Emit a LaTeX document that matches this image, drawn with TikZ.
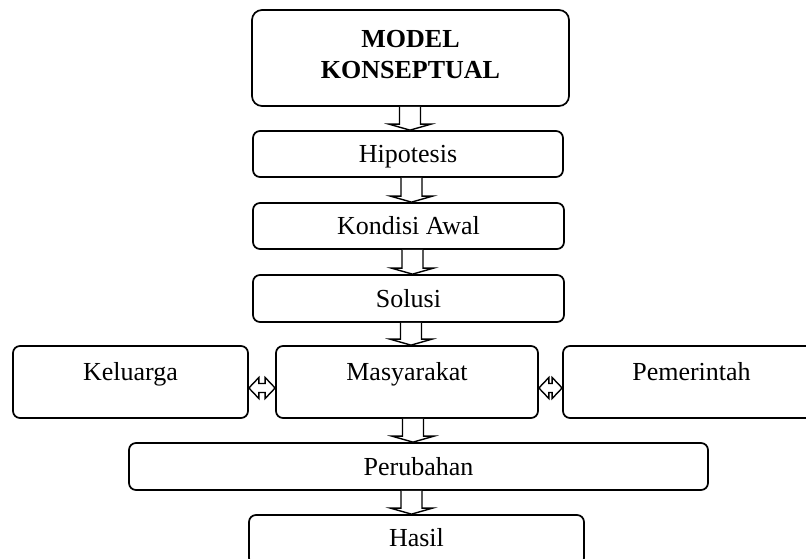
\documentclass[tikz,border=0pt]{standalone}
\usepackage{fontspec}
\setmainfont{Liberation Serif}
\usetikzlibrary{calc}
\newcommand{\hdown}[3]{%
 \draw[harrow] let \p1=(#1.south), \p2=(#2.north) in
  (#3pt-10.5pt,\y1) -- (#3pt-10.5pt,\y2+6pt) -- (#3pt-21pt,\y2+6pt) -- (#3pt,\y2)
  -- (#3pt+21pt,\y2+6pt) -- (#3pt+10.5pt,\y2+6pt) -- (#3pt+10.5pt,\y1);}
\newcommand{\hboth}[3]{%
 \draw[harrow] let \p1=(#1.east), \p2=(#2.west) in
  (\x1,-#3pt) -- (\x1+10pt,-#3pt+10.5pt) -- (\x1+10pt,-#3pt+4.5pt) -- (\x2-10pt,-#3pt+4.5pt)
  -- (\x2-10pt,-#3pt+10.5pt) -- (\x2,-#3pt) -- (\x2-10pt,-#3pt-10.5pt) -- (\x2-10pt,-#3pt-4.5pt)
  -- (\x1+10pt,-#3pt-4.5pt) -- (\x1+10pt,-#3pt-10.5pt) -- cycle;}
\begin{document}
\begin{tikzpicture}[x=1pt,y=-1pt,
  base/.style={draw, line width=1.7pt, inner sep=0pt, font=\fontsize{26}{31}\selectfont},
  box/.style={base, rounded corners=7pt, text height=20pt, text depth=3pt},
  tallbox/.style={box, text depth=24pt},
  harrow/.style={draw, fill=white, line width=1.4pt, line join=miter}]
\useasboundingbox (0,0) rectangle (806,559);
\clip (0,0) rectangle (806,559);
\node[base, rounded corners=10pt, minimum width=317pt, minimum height=96pt, align=center,
      font=\fontsize{26}{31}\selectfont\bfseries, text depth=8pt] (model) at (410.5,58) {MODEL\\KONSEPTUAL};
\node[box, minimum width=310pt, minimum height=46pt] (hip) at (408,154) {Hipotesis};
\node[box, minimum width=311pt, minimum height=46pt] (kon) at (408.5,226) {Kondisi Awal};
\node[box, minimum width=311pt, minimum height=47pt] (sol) at (408.5,298.5) {Solusi};
\node[tallbox, minimum width=235pt, minimum height=72pt] (kel) at (130.5,382) {Keluarga};
\node[tallbox, minimum width=262pt, minimum height=72pt] (mas) at (407,382) {Masyarakat};
\node[tallbox, minimum width=257pt, minimum height=72pt] (pem) at (691.5,382) {Pemerintah};
\node[box, minimum width=579pt, minimum height=47pt] (per) at (418.5,466.5) {Perubahan};
\node[box, minimum width=335pt, minimum height=50pt, text depth=7pt] (has) at (416.5,540) {Hasil};
\hdown{model}{hip}{410}
\hdown{hip}{kon}{411.5}
\hdown{kon}{sol}{412.5}
\hdown{sol}{mas}{411}
\hdown{mas}{per}{413}
\hdown{per}{has}{411.5}
\hboth{kel}{mas}{388}
\hboth{mas}{pem}{388}
\end{tikzpicture}
\end{document}
